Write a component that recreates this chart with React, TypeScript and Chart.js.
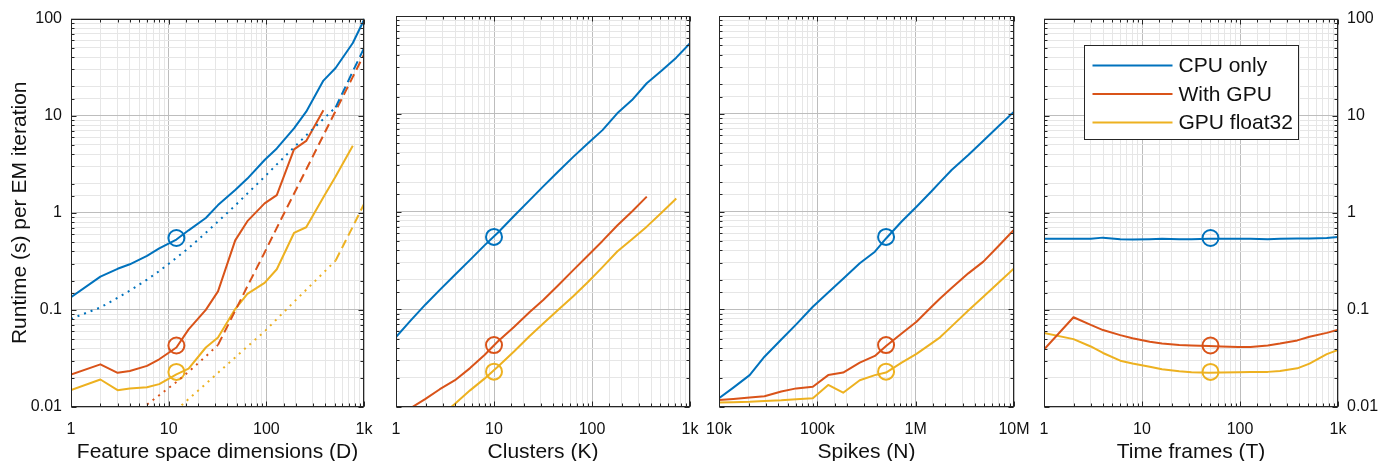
import React, { useEffect, useRef } from 'react';
import { Chart, registerables } from 'chart.js';

Chart.register(...registerables);

// ---------- colours / fonts ----------
const BLUE = '#0072BD';
const ORANGE = '#D95319';
const YELLOW = '#EDB120';
const AXIS = '#262626';
const TEXT = '#111111';
const MAJOR_GRID = '#bdbdbd';
const MINOR_GRID = '#e6e6e6';
const FONT = "'Liberation Sans', Arial, Helvetica, sans-serif";

// ---------- legend ----------
const legendLabels = ['CPU only', 'With GPU', 'GPU float32'];
const legendColors = [BLUE, ORANGE, YELLOW];

// ---------- tick labels ----------
const yTickVals = [0.01, 0.1, 1, 10, 100];
const yTickLabels = ['0.01', '0.1', '1', '10', '100'];
const xTickValsA = [1, 10, 100, 1000];
const xTickLabelsA = ['1', '10', '100', '1k'];
const xTickValsN = [1e4, 1e5, 1e6, 1e7];
const xTickLabelsN = ['10k', '100k', '1M', '10M'];

// ---------- default-parameter markers ----------
const markerCpu = 0.55;
const markerGpu = 0.043;
const markerF32 = 0.023;
const dimDefault = 12;
const clustersDefault = 10;
const spikesDefault = 500000;
const framesDefault = 50;

// ---------- Panel 1: feature space dimensions (D) ----------
const dimD = [1, 2, 3, 4, 6, 8, 12, 16, 24, 32, 48, 64, 96, 128, 192, 256, 384, 512, 768, 1024];
const dimCpu = [0.135, 0.22, 0.265, 0.295, 0.36, 0.43, 0.53, 0.66, 0.885, 1.2, 1.72, 2.25, 3.5, 4.6, 7.4, 11, 23, 31, 56, 102];
const dimGpuD = [1, 2, 3, 4, 6, 8, 12, 16, 24, 32, 48, 64, 96, 128, 192, 256, 384];
const dimGpu = [0.0216, 0.0275, 0.0225, 0.0235, 0.0265, 0.031, 0.041, 0.063, 0.1, 0.155, 0.52, 0.82, 1.25, 1.52, 4.5, 5.5, 11.4];
const dimF32D = [1, 2, 3, 4, 6, 8, 12, 16, 24, 32, 48, 64, 96, 128, 192, 256, 384, 512, 768];
const dimF32 = [0.0149, 0.0192, 0.0149, 0.0155, 0.016, 0.0172, 0.0217, 0.0248, 0.041, 0.052, 0.102, 0.146, 0.19, 0.262, 0.62, 0.71, 1.45, 2.36, 4.9];
// model curves (dotted) and extrapolations (dashed)
const dimCpuModelD = [1, 2, 3, 4, 6, 8, 12, 16, 24, 32, 48, 64, 96, 128, 192, 256, 384, 512];
const dimCpuModel = [0.081, 0.106, 0.133, 0.158, 0.205, 0.251, 0.344, 0.433, 0.622, 0.813, 1.19, 1.58, 2.35, 3.15, 4.72, 6.27, 9.25, 12.2];
const dimCpuExtD = [512, 768, 1024];
const dimCpuExt = [12.2, 28.6, 52];
const dimGpuModelD = [4, 6, 8, 12, 16, 24, 32];
const dimGpuModel = [0.008, 0.0106, 0.0132, 0.0181, 0.0231, 0.0332, 0.0436];
const dimGpuExtD = [32, 48, 64, 96, 128, 192, 256, 384, 512, 768, 1024];
const dimGpuExt = [0.0436, 0.098, 0.175, 0.39, 0.7, 1.57, 2.79, 6.28, 11.2, 25.1, 44.7];
const dimF32ModelD = [12, 16, 24, 32, 48, 64, 96, 128, 192, 256, 384, 512];
const dimF32Model = [0.0093, 0.0121, 0.0173, 0.0225, 0.0324, 0.042, 0.06, 0.0805, 0.121, 0.161, 0.241, 0.322];
const dimF32ExtD = [512, 768, 1024];
const dimF32Ext = [0.322, 0.72, 1.29];

// ---------- Panel 2: clusters (K) ----------
const clustersK = [1, 1.4, 2, 2.8, 4, 5.7, 8, 11, 16, 23, 32, 45, 64, 91, 128, 181, 256, 362, 512, 724, 1024];
const clustersCpu = [0.052, 0.076, 0.112, 0.158, 0.225, 0.32, 0.45, 0.61, 0.9, 1.3, 1.82, 2.55, 3.6, 5.0, 6.8, 10.1, 13.8, 20.5, 27.5, 37.5, 54];
const clustersGpuK = [1, 1.4, 2, 2.8, 4, 5.7, 8, 11, 16, 23, 32, 45, 64, 91, 128, 181, 256, 362];
const clustersGpu = [0.0079, 0.0097, 0.0121, 0.0152, 0.0188, 0.025, 0.034, 0.047, 0.066, 0.093, 0.125, 0.175, 0.25, 0.355, 0.5, 0.72, 1.0, 1.42];
const clustersF32K = [2.8, 4, 5.7, 8, 11, 16, 23, 32, 45, 64, 91, 128, 181, 256, 362, 512, 724];
const clustersF32 = [0.0079, 0.0108, 0.0148, 0.0195, 0.026, 0.037, 0.053, 0.072, 0.098, 0.135, 0.19, 0.27, 0.39, 0.52, 0.7, 0.97, 1.36];

// ---------- Panel 3: spikes (N) ----------
const spikesN = [1e4, 1.4e4, 2.05e4, 2.9e4, 4.3e4, 6.1e4, 9.0e4, 1.29e5, 1.83e5, 2.7e5, 3.85e5, 5.0e5, 7.2e5, 1.02e6, 1.45e6, 1.77e6, 2.32e6, 3.43e6, 4.88e6, 7.0e6, 1.0e7];
const spikesCpu = [0.0123, 0.0158, 0.0212, 0.0327, 0.049, 0.07, 0.106, 0.148, 0.205, 0.295, 0.388, 0.53, 0.79, 1.12, 1.61, 2.0, 2.66, 3.79, 5.3, 7.5, 10.5];
const spikesGpu = [0.0118, 0.0121, 0.0125, 0.0129, 0.0144, 0.0155, 0.0161, 0.0212, 0.0225, 0.0284, 0.0333, 0.042, 0.0565, 0.0746, 0.106, 0.129, 0.165, 0.233, 0.307, 0.447, 0.65];
const spikesF32 = [0.0111, 0.0112, 0.0113, 0.0115, 0.0117, 0.012, 0.0123, 0.0168, 0.014, 0.0188, 0.0212, 0.0225, 0.0284, 0.0349, 0.0448, 0.0516, 0.0668, 0.097, 0.134, 0.188, 0.262];

// ---------- Panel 4: time frames (T) ----------
const framesT = [1, 2, 3, 4, 6, 8, 12, 16, 24, 32, 48, 64, 96, 128, 192, 256, 384, 512, 768, 1024];
const framesCpu = [0.54, 0.54, 0.54, 0.555, 0.535, 0.53, 0.535, 0.54, 0.535, 0.535, 0.54, 0.54, 0.54, 0.54, 0.535, 0.54, 0.545, 0.545, 0.55, 0.565];
const framesGpu = [0.039, 0.084, 0.07, 0.062, 0.055, 0.051, 0.047, 0.045, 0.0435, 0.043, 0.0425, 0.042, 0.0415, 0.0415, 0.043, 0.045, 0.0485, 0.053, 0.058, 0.063];
const framesF32 = [0.058, 0.05, 0.042, 0.036, 0.03, 0.028, 0.026, 0.0245, 0.0233, 0.0228, 0.0225, 0.0226, 0.0228, 0.023, 0.023, 0.0235, 0.025, 0.028, 0.035, 0.039];

// ---------- helpers ----------
type Style = 'solid' | 'dotted' | 'dashed' | 'marker';
type Series = { xs: number[]; ys: number[]; color: string; style: Style };
type Panel = {
  left: number;
  right: number;
  yMode: 'left' | 'none' | 'right';
  xMin: number;
  xMax: number;
  xTickVals: number[];
  xTickLabels: string[];
  xTitle: string;
  yTitle?: string;
  legend?: boolean;
  series: Series[];
};

const W = 1379;
const H = 461;
const PLOT_TOP = 16;
const PLOT_BOTTOM = 407;

function isDecade(v: number) {
  const l = Math.log10(v);
  return Math.abs(l - Math.round(l)) < 1e-6;
}

function pts(xs: number[], ys: number[]) {
  return xs.map((x, i) => ({ x, y: ys[i] }));
}

function markers(x: number): Series[] {
  return [
    { xs: [x], ys: [markerCpu], color: BLUE, style: 'marker' },
    { xs: [x], ys: [markerGpu], color: ORANGE, style: 'marker' },
    { xs: [x], ys: [markerF32], color: YELLOW, style: 'marker' },
  ];
}

const panels: Panel[] = [
  {
    left: 71, right: 364, yMode: 'left', xMin: 1, xMax: 1000,
    xTickVals: xTickValsA, xTickLabels: xTickLabelsA,
    xTitle: 'Feature space dimensions (D)', yTitle: 'Runtime (s) per EM iteration',
    series: [
      { xs: dimCpuModelD, ys: dimCpuModel, color: BLUE, style: 'dotted' },
      { xs: dimCpuExtD, ys: dimCpuExt, color: BLUE, style: 'dashed' },
      { xs: dimGpuModelD, ys: dimGpuModel, color: ORANGE, style: 'dotted' },
      { xs: dimGpuExtD, ys: dimGpuExt, color: ORANGE, style: 'dashed' },
      { xs: dimF32ModelD, ys: dimF32Model, color: YELLOW, style: 'dotted' },
      { xs: dimF32ExtD, ys: dimF32Ext, color: YELLOW, style: 'dashed' },
      { xs: dimD, ys: dimCpu, color: BLUE, style: 'solid' },
      { xs: dimGpuD, ys: dimGpu, color: ORANGE, style: 'solid' },
      { xs: dimF32D, ys: dimF32, color: YELLOW, style: 'solid' },
      ...markers(dimDefault),
    ],
  },
  {
    left: 396, right: 690, yMode: 'none', xMin: 1, xMax: 1000,
    xTickVals: xTickValsA, xTickLabels: xTickLabelsA,
    xTitle: 'Clusters (K)',
    series: [
      { xs: clustersK, ys: clustersCpu, color: BLUE, style: 'solid' },
      { xs: clustersGpuK, ys: clustersGpu, color: ORANGE, style: 'solid' },
      { xs: clustersF32K, ys: clustersF32, color: YELLOW, style: 'solid' },
      ...markers(clustersDefault),
    ],
  },
  {
    left: 719, right: 1014, yMode: 'none', xMin: 1e4, xMax: 1e7,
    xTickVals: xTickValsN, xTickLabels: xTickLabelsN,
    xTitle: 'Spikes (N)',
    series: [
      { xs: spikesN, ys: spikesCpu, color: BLUE, style: 'solid' },
      { xs: spikesN, ys: spikesGpu, color: ORANGE, style: 'solid' },
      { xs: spikesN, ys: spikesF32, color: YELLOW, style: 'solid' },
      ...markers(spikesDefault),
    ],
  },
  {
    left: 1044, right: 1338, yMode: 'right', xMin: 1, xMax: 1000,
    xTickVals: xTickValsA, xTickLabels: xTickLabelsA,
    xTitle: 'Time frames (T)', legend: true,
    series: [
      { xs: framesT, ys: framesCpu, color: BLUE, style: 'solid' },
      { xs: framesT, ys: framesGpu, color: ORANGE, style: 'solid' },
      { xs: framesT, ys: framesF32, color: YELLOW, style: 'solid' },
      ...markers(framesDefault),
    ],
  },
];

function makeDataset(s: Series) {
  const d: any = {
    data: pts(s.xs, s.ys),
    borderColor: s.color,
    backgroundColor: s.color,
    borderWidth: 2,
    pointRadius: 0,
    pointHoverRadius: 0,
    tension: 0,
    fill: false,
    borderCapStyle: 'butt',
    borderJoinStyle: 'round',
  };
  if (s.style === 'dotted') d.borderDash = [2, 5];
  if (s.style === 'dashed') d.borderDash = [9, 5];
  if (s.style === 'marker') {
    d.showLine = false;
    d.pointRadius = 8;
    d.pointBorderWidth = 2;
    d.pointStyle = 'circle';
    d.pointBorderColor = s.color;
    d.pointBackgroundColor = 'rgba(0,0,0,0)';
  }
  return d;
}

function labelFor(vals: number[], labels: string[]) {
  return (value: any) => {
    const v = Number(value);
    const i = vals.findIndex((t) => Math.abs(t - v) / t < 1e-6);
    return i >= 0 ? labels[i] : '';
  };
}

const framePlugin = {
  id: 'frame',
  afterDraw(chart: any) {
    const { ctx, chartArea } = chart;
    const l = Math.round(chartArea.left) + 0.5;
    const r = Math.round(chartArea.right) - 0.5;
    const t = Math.round(chartArea.top) + 0.5;
    const b = Math.round(chartArea.bottom) - 0.5;
    ctx.save();
    ctx.strokeStyle = AXIS;
    ctx.lineWidth = 1;
    ctx.beginPath();
    const xs = chart.scales.x;
    for (const tk of xs.ticks) {
      const p = Math.round(xs.getPixelForValue(tk.value)) + 0.5;
      const len = isDecade(tk.value) ? 5 : 3;
      ctx.moveTo(p, b); ctx.lineTo(p, b - len);
      ctx.moveTo(p, t); ctx.lineTo(p, t + len);
    }
    const ys = chart.scales.y;
    for (const tk of ys.ticks) {
      const p = Math.round(ys.getPixelForValue(tk.value)) + 0.5;
      const len = isDecade(tk.value) ? 5 : 3;
      ctx.moveTo(l, p); ctx.lineTo(l + len, p);
      ctx.moveTo(r, p); ctx.lineTo(r - len, p);
    }
    ctx.stroke();
    ctx.strokeRect(l, t, r - l, b - t);
    ctx.restore();
  },
};

const legendPlugin = {
  id: 'boxLegend',
  afterDraw(chart: any) {
    const { ctx, chartArea } = chart;
    const bx = Math.round(chartArea.left) + 40.5;
    const by = Math.round(chartArea.top) + 26.5;
    const bw = 214;
    const bh = 94;
    ctx.save();
    ctx.fillStyle = '#ffffff';
    ctx.fillRect(bx, by, bw, bh);
    ctx.strokeStyle = AXIS;
    ctx.lineWidth = 1;
    ctx.strokeRect(bx, by, bw, bh);
    ctx.font = `21px ${FONT}`;
    ctx.textBaseline = 'middle';
    ctx.textAlign = 'left';
    legendLabels.forEach((lab, i) => {
      const y = by + 20 + i * 28.5;
      ctx.strokeStyle = legendColors[i];
      ctx.lineWidth = 2;
      ctx.beginPath();
      ctx.moveTo(bx + 8, y);
      ctx.lineTo(bx + 88, y);
      ctx.stroke();
      ctx.fillStyle = TEXT;
      ctx.fillText(lab, bx + 94, y + 1);
    });
    ctx.restore();
  },
};

function gridColor(c: any) {
  const v = c.tick ? c.tick.value : NaN;
  return isDecade(v) ? MAJOR_GRID : MINOR_GRID;
}

function buildConfig(p: Panel): any {
  const yWidth = p.yMode === 'left' ? p.left : p.yMode === 'right' ? W - p.right : 0;
  const padLeft = p.yMode === 'left' ? 0 : p.left;
  const padRight = p.yMode === 'right' ? 0 : W - p.right;
  return {
    type: 'line',
    data: { datasets: p.series.map(makeDataset) },
    options: {
      animation: false,
      responsive: false,
      events: [],
      layout: { padding: { left: padLeft, right: padRight, top: PLOT_TOP, bottom: 0 } },
      plugins: { legend: { display: false }, tooltip: { enabled: false } },
      scales: {
        x: {
          type: 'logarithmic',
          min: p.xMin,
          max: p.xMax,
          afterFit: (s: any) => { s.height = H - PLOT_BOTTOM; },
          grid: { color: gridColor, lineWidth: 1, drawTicks: false },
          border: { display: false },
          ticks: {
            autoSkip: false, maxRotation: 0, minRotation: 0, padding: 13,
            font: { size: 16, family: FONT }, color: TEXT,
            callback: labelFor(p.xTickVals, p.xTickLabels),
          },
          title: {
            display: true, text: p.xTitle, color: TEXT, padding: 0,
            font: { size: 21, family: FONT, lineHeight: 0.88 },
          },
        },
        y: {
          type: 'logarithmic',
          position: p.yMode === 'right' ? 'right' : 'left',
          min: 0.01,
          max: 100,
          afterFit: (s: any) => { s.width = yWidth; },
          grid: { color: gridColor, lineWidth: 1, drawTicks: false },
          border: { display: false },
          ticks: {
            display: p.yMode !== 'none',
            autoSkip: false, padding: 9,
            font: { size: 16, family: FONT }, color: TEXT,
            callback: labelFor(yTickVals, yTickLabels),
          },
          title: {
            display: !!p.yTitle, text: p.yTitle || '', color: TEXT,
            padding: { top: 9, bottom: 0 },
            font: { size: 21, family: FONT, lineHeight: 1.1 },
          },
        },
      },
    },
    plugins: p.legend ? [framePlugin, legendPlugin] : [framePlugin],
  };
}

function PanelCanvas({ panel }: { panel: Panel }) {
  const ref = useRef<HTMLCanvasElement | null>(null);
  useEffect(() => {
    if (!ref.current) return;
    const chart = new Chart(ref.current, buildConfig(panel));
    return () => chart.destroy();
  }, [panel]);
  return (
    <canvas
      ref={ref}
      width={W}
      height={H}
      style={{ position: 'absolute', left: 0, top: 0, display: 'block' }}
    />
  );
}

export default function App() {
  return (
    <div style={{ position: 'absolute', left: 0, top: 0, width: W, height: H, background: '#ffffff', overflow: 'hidden' }}>
      {panels.map((p, i) => (
        <PanelCanvas key={i} panel={p} />
      ))}
    </div>
  );
}
